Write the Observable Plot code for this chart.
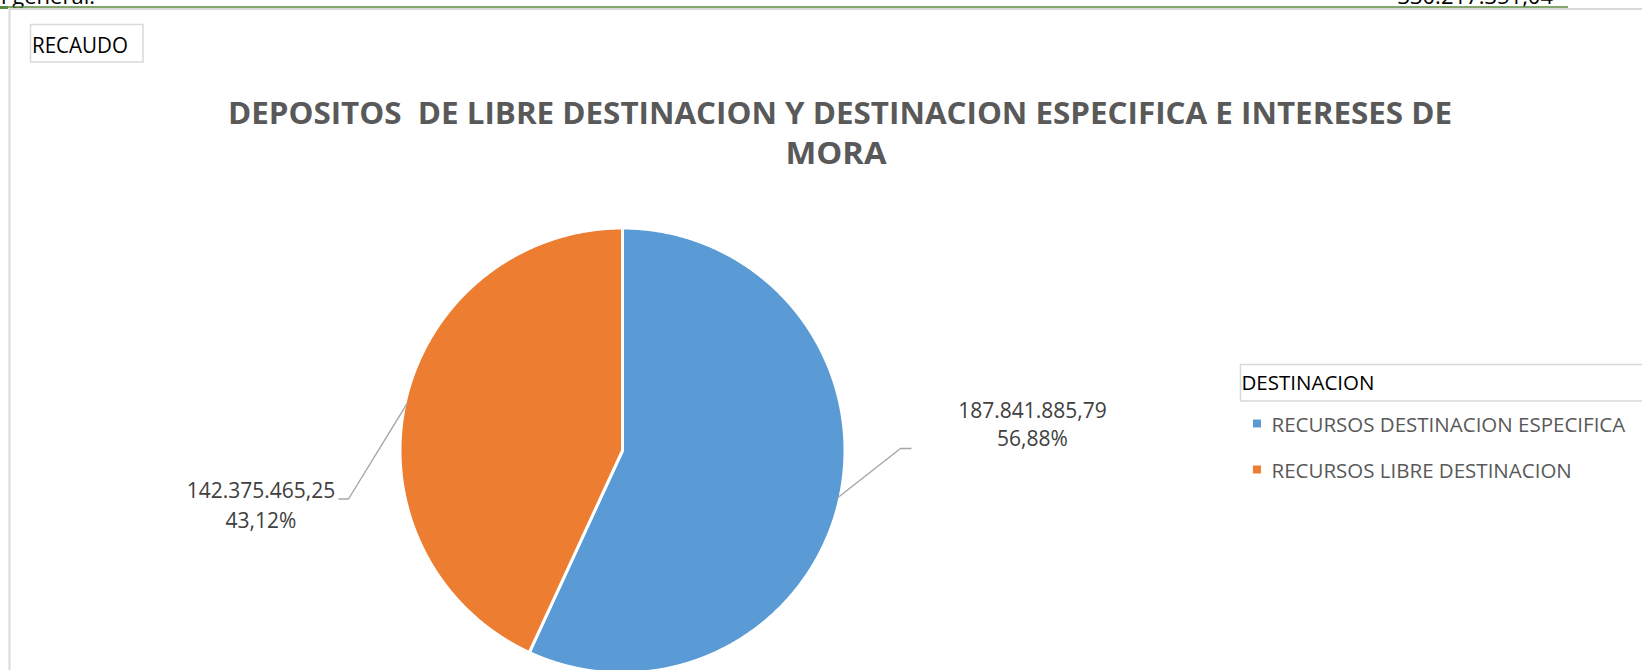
<!DOCTYPE html>
<html>
<head>
<meta charset="utf-8">
<script src="https://cdn.jsdelivr.net/npm/d3@7"></script>
<script src="https://cdn.jsdelivr.net/npm/@observablehq/plot@0.6"></script>
<style>
  html, body { margin: 0; padding: 0; background: #fff; overflow: hidden; }
  #wrap { position: relative; width: 1642px; height: 670px; overflow: hidden; background: #fff; }
  #wrap svg { position: absolute; }
  #wrap text { white-space: pre; }
</style>
</head>
<body>
<div id="wrap"></div>
<script>
// ---- data ----
const categories = ["RECURSOS DESTINACION ESPECIFICA", "RECURSOS LIBRE DESTINACION"];
const values = [187841885.79, 142375465.25];
const sliceColors = ["#5B9BD5", "#ED7D31"];
const titleLines = ["DEPOSITOS  DE LIBRE DESTINACION Y DESTINACION ESPECIFICA E INTERESES DE", "MORA"];
const chartTag = "RECAUDO";
const legendTitle = "DESTINACION";
const topLeftText = "Total general:";

// ---- layout ----
const W = 1642, H = 670, CX = 622, CY = 450, R = 222.5;
const labelLayout = [
  {elbow: [278, -2], end: [289, -2], tx: 410, base: [-33, -5]},
  {elbow: [-274, 48.5], end: [-284, 48.5], tx: -361.5, base: [47, 77]}
];
const LABEL_FS = 21;

const total = d3.sum(values);
const loc = d3.formatLocale({decimal: ",", thousands: ".", grouping: [3], currency: ["$", ""]});
const fmtVal = loc.format(",.2f");
const fmtPct = v => loc.format(".2f")(v * 100) + "%";

const slices = d3.pie().sort(null).value(d => d.value)(categories.map((c, i) => ({cat: c, value: values[i]})));

const piePts = slices.flatMap(s => {
  const n = Math.max(2, Math.ceil((s.endAngle - s.startAngle) / 0.005));
  const pts = [{cat: s.data.cat, x: 0, y: 0}];
  for (let k = 0; k <= n; k++) {
    const a = s.startAngle + (s.endAngle - s.startAngle) * k / n;
    pts.push({cat: s.data.cat, x: Math.sin(a), y: -Math.cos(a)});
  }
  return pts;
});

const leaderPts = slices.flatMap((s, i) => {
  const mid = (s.startAngle + s.endAngle) / 2;
  const L = labelLayout[i];
  return [
    {cat: s.data.cat, x: Math.sin(mid) * 0.99, y: -Math.cos(mid) * 0.99},
    {cat: s.data.cat, x: L.elbow[0] / R, y: L.elbow[1] / R},
    {cat: s.data.cat, x: L.end[0] / R, y: L.end[1] / R}
  ];
});

const labelRows = slices.flatMap((s, i) => {
  const L = labelLayout[i];
  return [
    {x: L.tx / R, y: (L.base[0] - 0.32 * LABEL_FS) / R, text: fmtVal(s.data.value)},
    {x: L.tx / R, y: (L.base[1] - 0.32 * LABEL_FS) / R, text: fmtPct(s.data.value / total)}
  ];
});

const pie = Plot.plot({
  width: W, height: H, margin: 0,
  x: {domain: [-1, 1], range: [CX - R, CX + R], axis: null},
  y: {domain: [-1, 1], range: [CY - R, CY + R], axis: null},
  color: {domain: categories, range: sliceColors},
  style: {background: "transparent", fontFamily: "Open Sans", overflow: "visible"},
  marks: [
    Plot.line(piePts, {x: "x", y: "y", z: "cat", fill: "cat", stroke: "white", strokeWidth: 3, curve: "linear-closed"}),
    Plot.line(leaderPts, {x: "x", y: "y", z: "cat", stroke: "#a6a6a6", strokeWidth: 1.4, strokeLinejoin: "miter", strokeLinecap: "butt"}),
    Plot.text(labelRows, {x: "x", y: "y", text: "text", fontSize: LABEL_FS, fill: "#404040", fontFamily: "Open Sans", textAnchor: "middle"})
  ]
});
pie.style.left = "0px"; pie.style.top = "0px";

const svg = d3.select(pie);
const addText = (x, y, str, opts) => {
  const t = svg.append("text").attr("x", x).attr("y", y)
    .attr("text-anchor", opts.anchor || "start")
    .attr("font-family", "Open Sans")
    .attr("font-size", opts.size)
    .attr("font-weight", opts.weight || 400)
    .attr("fill", opts.fill || "#000")
    .text(str);
  if (opts.len) t.attr("textLength", opts.len).attr("lengthAdjust", "spacingAndGlyphs");
  return t;
};

// sheet fragments and chart frame
addText(95, 4, topLeftText, {anchor: "end", size: 22});
addText(1553, 4, fmtVal(total), {anchor: "end", size: 22});
svg.append("rect").attr("x", 9.5).attr("y", 9).attr("width", 1700).attr("height", 700)
  .attr("fill", "none").attr("stroke", "#d9d9d9").attr("stroke-width", 2);
svg.append("line").attr("x1", 0).attr("x2", 1568).attr("y1", 7).attr("y2", 7)
  .attr("stroke", "#5b8a3c").attr("stroke-width", 1.5);
svg.append("rect").attr("x", 0).attr("y", 6).attr("width", 8).attr("height", 3).attr("fill", "#5b8a3c");

// RECAUDO tag
svg.append("rect").attr("x", 30.5).attr("y", 24.5).attr("width", 112.5).attr("height", 37.5)
  .attr("fill", "#fff").attr("stroke", "#d9d9d9").attr("stroke-width", 1.5);
addText(32, 52.5, chartTag, {size: 21, len: 96});

// title
addText(840, 124, titleLines[0], {anchor: "middle", size: 30, weight: 700, fill: "#595959", len: 1224});
addText(836, 164, titleLines[1], {anchor: "middle", size: 30, weight: 700, fill: "#595959", len: 101});

// legend title box
svg.append("rect").attr("x", 1240.5).attr("y", 364.5).attr("width", 420).attr("height", 36.5)
  .attr("fill", "#fff").attr("stroke", "#d9d9d9").attr("stroke-width", 1.5);
addText(1241.5, 390, legendTitle, {size: 20.5});

document.getElementById("wrap").appendChild(pie);

// legend
const legend = Plot.plot({
  width: 402, height: 95, margin: 0,
  x: {domain: [0, 1], range: [16.5, 31], axis: null},
  y: {type: "point", domain: categories, range: [23, 69], padding: 0, axis: null},
  color: {domain: categories, range: sliceColors},
  style: {background: "transparent", fontFamily: "Open Sans"},
  marks: [
    Plot.dot(categories, {x: () => 0, y: d => d, fill: d => d, symbol: "square", r: 4.5, stroke: null}),
    Plot.text(categories, {x: () => 1, y: d => d, text: d => d, textAnchor: "start", fontSize: 20.5,
      fill: "#595959", fontFamily: "Open Sans", dy: 1.5})
  ]
});
legend.style.left = "1240px"; legend.style.top = "400px";
document.getElementById("wrap").appendChild(legend);
</script>
</body>
</html>
